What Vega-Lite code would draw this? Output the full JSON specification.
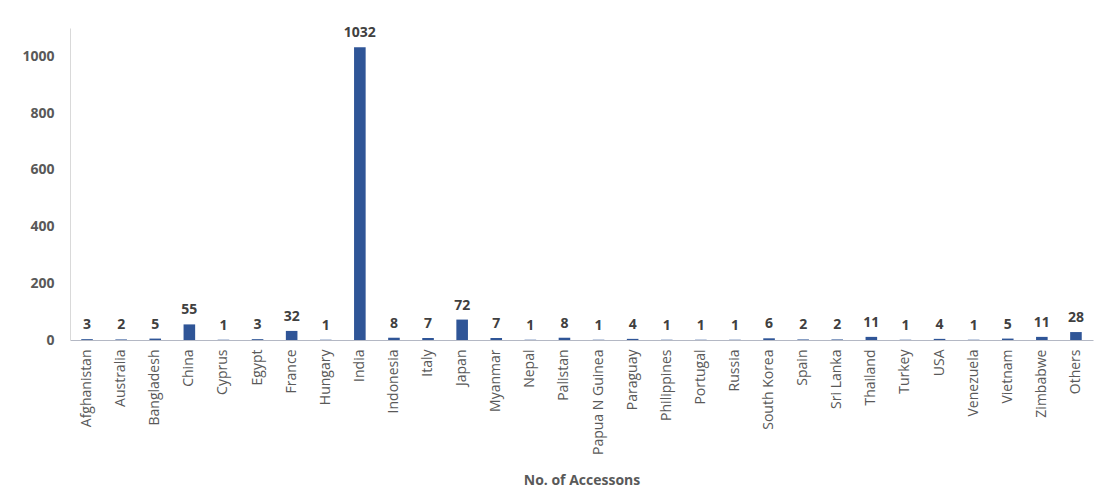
{
  "$schema": "https://vega.github.io/schema/vega-lite/v6.json",
  "width": 1023,
  "height": 312,
  "padding": {"left": 20, "top": 26, "right": 2, "bottom": 0},
  "background": "white",
  "data": {
    "values": [
      {"country": "Afghanistan", "count": 3},
      {"country": "Australia", "count": 2},
      {"country": "Bangladesh", "count": 5},
      {"country": "China", "count": 55},
      {"country": "Cyprus", "count": 1},
      {"country": "Egypt", "count": 3},
      {"country": "France", "count": 32},
      {"country": "Hungary", "count": 1},
      {"country": "India", "count": 1032},
      {"country": "Indonesia", "count": 8},
      {"country": "Italy", "count": 7},
      {"country": "Japan", "count": 72},
      {"country": "Myanmar", "count": 7},
      {"country": "Nepal", "count": 1},
      {"country": "Palistan", "count": 8},
      {"country": "Papua N Guinea", "count": 1},
      {"country": "Paraguay", "count": 4},
      {"country": "Philippines", "count": 1},
      {"country": "Portugal", "count": 1},
      {"country": "Russia", "count": 1},
      {"country": "South Korea", "count": 6},
      {"country": "Spain", "count": 2},
      {"country": "Sri Lanka", "count": 2},
      {"country": "Thailand", "count": 11},
      {"country": "Turkey", "count": 1},
      {"country": "USA", "count": 4},
      {"country": "Venezuela", "count": 1},
      {"country": "Vietnam", "count": 5},
      {"country": "Zimbabwe", "count": 11},
      {"country": "Others", "count": 28}
    ]
  },
  "encoding": {
    "x": {
      "field": "country",
      "type": "nominal",
      "sort": null,
      "scale": {"paddingInner": 0.66, "paddingOuter": 0.33},
      "axis": {
        "title": "No. of Accessons",
        "labelAngle": -90,
        "labelFontSize": 14,
        "labelColor": "#595959",
        "labelPadding": 9,
        "ticks": false,
        "domainColor": "#b4b8c4",
        "titleFontSize": 14,
        "titleFontWeight": "bold",
        "titleColor": "#595959",
        "titlePadding": 19
      }
    },
    "y": {
      "field": "count",
      "type": "quantitative",
      "scale": {"domain": [0, 1100], "nice": false},
      "axis": {
        "title": null,
        "format": "d",
        "values": [0, 200, 400, 600, 800, 1000],
        "grid": false,
        "ticks": false,
        "labelFontSize": 14,
        "labelFontWeight": "bold",
        "labelColor": "#595959",
        "labelPadding": 16,
        "domainColor": "#d9d9d9",
        "minExtent": 50,
        "maxExtent": 50
      }
    }
  },
  "layer": [
    {"mark": {"type": "bar", "color": "#2f5597"}},
    {
      "mark": {
        "type": "text",
        "dy": -14,
        "fontSize": 14,
        "fontWeight": "bold",
        "color": "#404040"
      },
      "encoding": {"text": {"field": "count", "type": "quantitative"}}
    }
  ],
  "config": {
    "font": "Open Sans",
    "view": {"stroke": null}
  }
}
